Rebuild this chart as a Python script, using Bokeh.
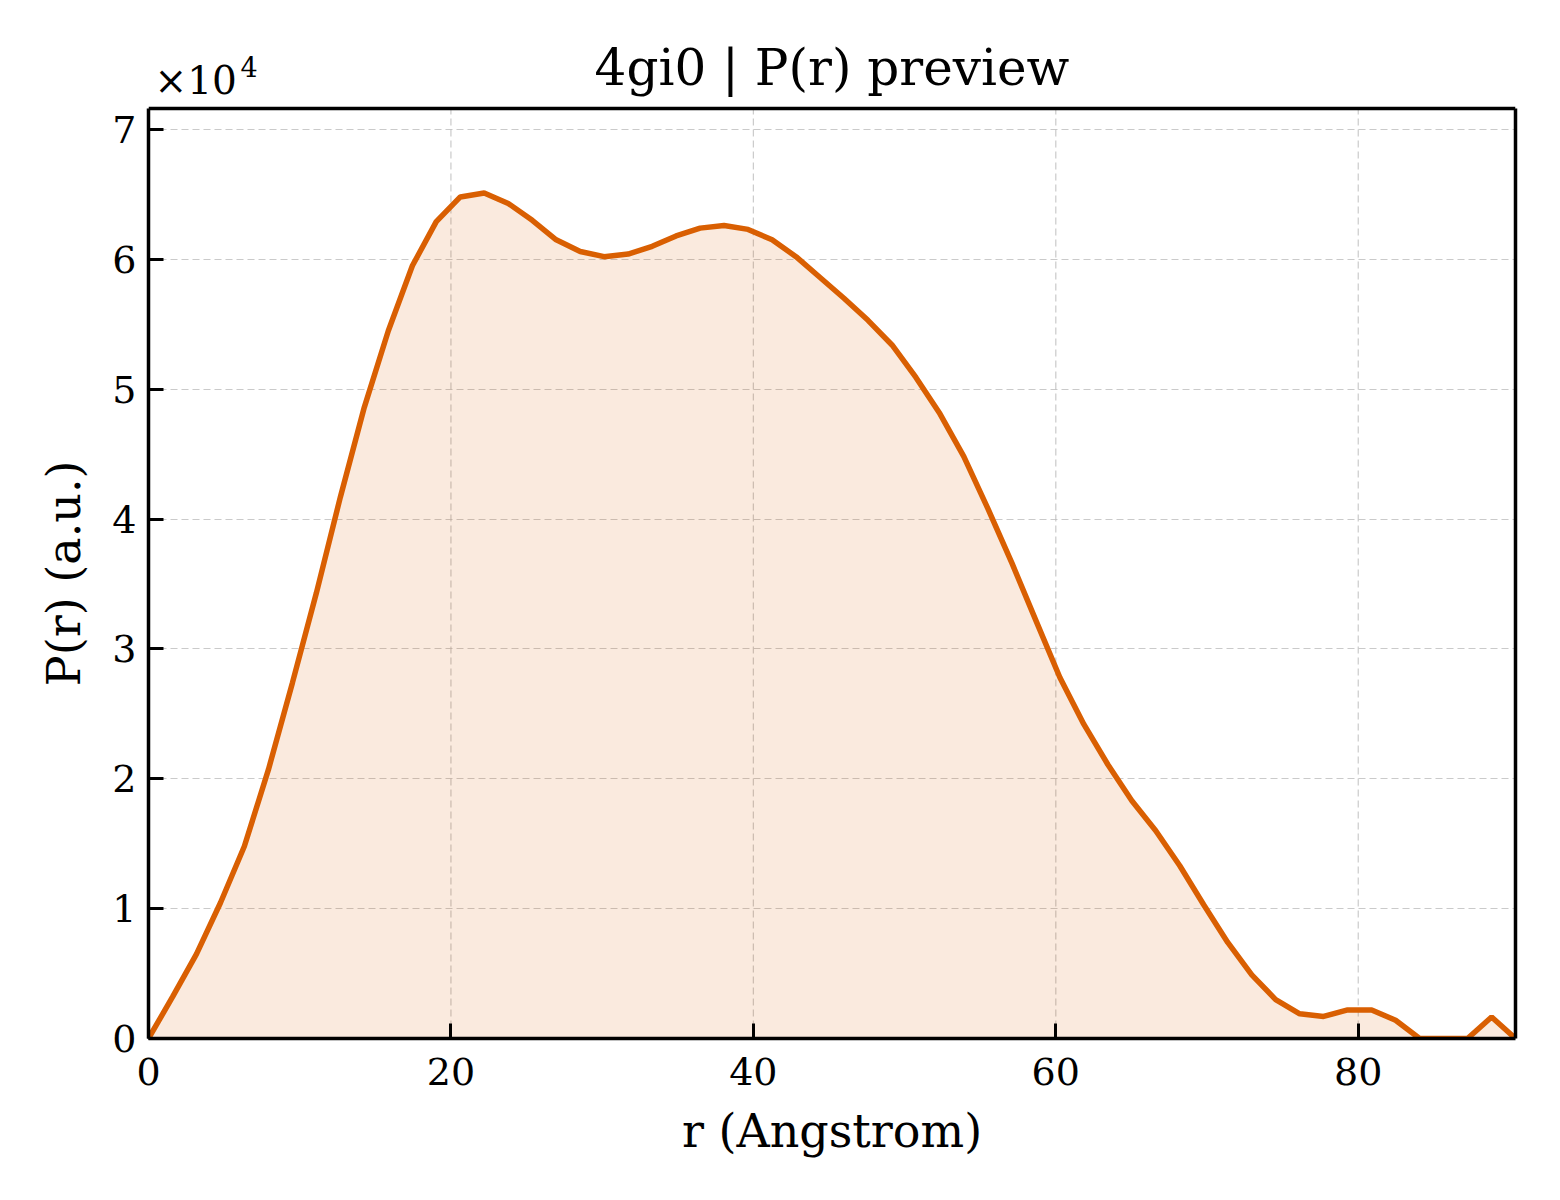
import bokeh.models
import bokeh.plotting
from bokeh.embed import file_html
from bokeh.resources import INLINE

r_values = [
    0.00, 1.59, 3.17, 4.76, 6.34, 7.93, 9.52, 11.10, 12.69, 14.27,
    15.86, 17.45, 19.03, 20.62, 22.20, 23.79, 25.38, 26.96, 28.55, 30.13,
    31.72, 33.31, 34.89, 36.48, 38.06, 39.65, 41.24, 42.82, 44.41, 45.99,
    47.58, 49.17, 50.75, 52.34, 53.92, 55.51, 57.10, 58.68, 60.27, 61.85,
    63.44, 65.03, 66.61, 68.20, 69.78, 71.37, 72.96, 74.54, 76.13, 77.71,
    79.30, 80.89, 82.47, 84.06, 85.64, 87.23, 88.82, 90.40,
]
pr_values = [
    0, 3200, 6500, 10450, 14800, 20700, 27400, 34300, 41700, 48600,
    54500, 59500, 62900, 64800, 65100, 64300, 63000, 61500, 60600, 60200,
    60400, 61000, 61800, 62400, 62600, 62300, 61500, 60200, 58600, 57000,
    55300, 53400, 50900, 48100, 44800, 40800, 36600, 32200, 27800, 24200,
    21100, 18300, 16000, 13300, 10300, 7400, 4900, 3000, 1900, 1700,
    2200, 2200, 1400, 0, 0, 0, 1650, 0,
]
x_ticks = [0, 20, 40, 60, 80]
y_ticks = [0, 10000, 20000, 30000, 40000, 50000, 60000, 70000]
y_tick_labels = {t: str(t // 10000) for t in y_ticks}

FONT = "DejaVu Serif"
LINE_COLOR = "#d95f02"
GRID_COLOR = "#bdbdbd"

# the axes box is 930px high; the frame reaches further up so that the
# title and the offset text (drawn as labels) are not clipped away
BOX_H = 930
FRAME_H = 1018
y_top = max(pr_values) * 1.1

source = bokeh.models.ColumnDataSource(data=dict(r=r_values, pr=pr_values))

p = bokeh.plotting.figure(
    width=1544,
    height=1184,
    x_range=bokeh.models.Range1d(0, r_values[-1]),
    y_range=bokeh.models.Range1d(0, y_top * FRAME_H / BOX_H),
    output_backend="svg",
    toolbar_location=None,
    min_border_left=148,
    min_border_right=29,
    min_border_top=20,
    min_border_bottom=146,
)
p.outline_line_color = None

# vertical grid lines only inside the axes box
p.xgrid.visible = False
p.segment(x0=x_ticks, y0=0, x1=x_ticks, y1=y_top, line_color=GRID_COLOR,
          line_alpha=0.8, line_width=1.2, line_dash="7 4")
p.ygrid.grid_line_color = GRID_COLOR
p.ygrid.grid_line_alpha = 0.8
p.ygrid.grid_line_width = 1.2
p.ygrid.grid_line_dash = "7 4"

p.varea(x="r", y1=0, y2="pr", source=source, fill_color=LINE_COLOR, fill_alpha=0.13)
p.line(x="r", y="pr", source=source, line_color=LINE_COLOR, line_width=5.5)

p.xaxis.ticker = bokeh.models.FixedTicker(ticks=x_ticks)
p.yaxis.ticker = bokeh.models.FixedTicker(ticks=y_ticks)
p.yaxis.major_label_overrides = y_tick_labels
p.yaxis.bounds = (0, y_top)

for ax in (p.xaxis, p.yaxis):
    ax.axis_line_width = 3.5
    ax.major_tick_line_width = 3
    ax.major_tick_in = 15
    ax.major_tick_out = 0
    ax.minor_tick_line_color = None
    ax.major_label_text_font = FONT
    ax.major_label_text_font_size = "38px"
    ax.major_label_text_color = "black"
    ax.axis_label_text_font = FONT
    ax.axis_label_text_font_size = "46px"
    ax.axis_label_text_font_style = "normal"
    ax.axis_label_text_color = "black"

p.xaxis.axis_label = "r (Angstrom)"
# trailing no-break spaces keep the label centred on the box, not the taller frame
p.yaxis.axis_label = "P(r) (a.u.)" + "\u00a0" * 6
p.xaxis.major_label_standoff = 19
p.yaxis.major_label_standoff = 12
p.xaxis.axis_label_standoff = 16
p.yaxis.axis_label_standoff = 18

# right and top spines of the box
right_spine = bokeh.models.LinearAxis(
    bounds=(0, y_top), ticker=bokeh.models.FixedTicker(ticks=[]),
    axis_line_width=3.5, major_tick_line_color=None, minor_tick_line_color=None,
    major_label_text_font_size="0px", major_label_standoff=0,
)
p.add_layout(right_spine, "right")
p.add_layout(bokeh.models.Span(location=y_top, dimension="width",
                               line_color="black", line_width=3.5))

# title and matplotlib-style offset text (screen units from the frame's bottom-left)
p.add_layout(bokeh.models.Label(
    x=683.5, y=971, x_units="screen", y_units="screen", text="4gi0 | P(r) preview",
    text_font=FONT, text_font_size="50px", text_align="center",
    text_baseline="alphabetic", text_color="black",
))
p.add_layout(bokeh.models.Label(
    x=6, y=958, x_units="screen", y_units="screen", text="×10",
    text_font=FONT, text_font_size="39px", text_baseline="alphabetic",
    text_color="black",
))
p.add_layout(bokeh.models.Label(
    x=92, y=972, x_units="screen", y_units="screen", text="4",
    text_font=FONT, text_font_size="27px", text_baseline="alphabetic",
    text_color="black",
))

open("out.html", "w").write(file_html(p, INLINE))
